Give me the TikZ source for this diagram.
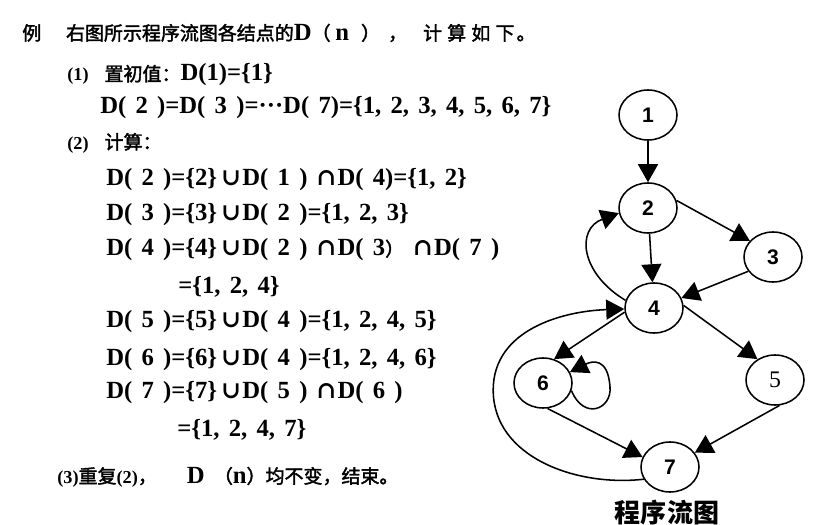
\documentclass[tikz,border=0pt]{standalone}
\usepackage{fontspec}
\setmainfont{Liberation Serif}[Scale=1.3,WordSpace=1.5]
\newfontfamily\cjkfont{Noto Sans CJK SC}[FakeBold=2]
\newfontfamily\cjkhead{Noto Sans CJK SC}
\newfontfamily\knotfont{Liberation Sans}
\newfontfamily\opfont{DejaVu Serif}
\usetikzlibrary{shapes.geometric,arrows.meta}

\newcommand{\cjk}{\cjkfont\mdseries}
\newcommand{\setu}{\hspace{0.1cm}{\opfont\fontsize{17}{17}\selectfont ∪}\hspace{0.03cm}}
\newcommand{\setn}{\hspace{0.22cm}{\opfont\fontsize{17}{17}\selectfont ∩}\hspace{0.03cm}}
\newcommand{\nr}[1]{{\fontsize{10}{12}\selectfont(#1)}}

\tikzset{
	knot/.style={ellipse,draw,line width=1.1pt,minimum width=1.45cm,minimum height=1.25cm,inner sep=0pt,
		font=\knotfont\fontsize{15}{17}\selectfont\bfseries},
	arr/.style={line width=1.1pt,-{Triangle[length=4.5mm,width=5mm]}},
	txt/.style={anchor=west,inner sep=0pt,font=\fontsize{13.5}{16}\selectfont\bfseries}
}

\begin{document}
\begin{tikzpicture}
	\useasboundingbox (0,0) rectangle (20.625,13.125);
	%text on the left
	\node[txt] (l1)  at (0.55,12.3)   {{\cjk 例\hspace{0.62cm}右图所示程序流图各结点的}D{\cjk （}\hspace{0.12cm}n\hspace{0.3cm}{\cjk ）}\hspace{0.2cm}{\cjk ，}\hspace{0.4cm}%
		{\cjk 计\hspace{0.13cm}算\hspace{0.13cm}如\hspace{0.13cm}下\hspace{0.05cm}。}};
	\node[txt] (l2)  at (1.675,11.25) {\nr{1}\hspace{0.4cm}{\cjk 置初值：}D(1)=\{1\}};
	\node[txt] (l3)  at (2.5,10.425)  {D( 2 )=D( 3 )=···D( 7)=\{1, 2, 3, 4, 5, 6, 7\}};
	\node[txt] (l4)  at (1.675,9.55)  {\nr{2}\hspace{0.4cm}{\cjk 计算：}};
	\node[txt] (l5)  at (2.65,8.625)  {D( 2 )=\{2\}\setu D( 1 )\setn D( 4)=\{1, 2\}};
	\node[txt] (l6)  at (2.65,7.75)   {D( 3 )=\{3\}\setu D( 2 )=\{1, 2, 3\}};
	\node[txt] (l7)  at (2.65,6.875)  {D( 4 )=\{4\}\setu D( 2 )\setn D( 3{\cjk ）}\setn D( 7 )};
	\node[txt] (l8)  at (4.45,5.95)   {=\{1, 2, 4\}};
	\node[txt] (l9)  at (2.65,5.075)  {D( 5 )=\{5\}\setu D( 4 )=\{1, 2, 4, 5\}};
	\node[txt] (l10) at (2.65,4.125)  {D( 6 )=\{6\}\setu D( 4 )=\{1, 2, 4, 6\}};
	\node[txt] (l11) at (2.65,3.3)    {D( 7 )=\{7\}\setu D( 5 )\setn D( 6 )};
	\node[txt] (l12) at (4.425,2.375) {=\{1, 2, 4, 7\}};
	\node[txt] (l13) at (1.425,1.2)   {\nr{3}{\cjk 重复}\nr{2}{\cjk ，}\hspace{0.75cm}D {\cjk （}n{\cjk ）均不变，结束。}};

	%flow graph
	\node[knot] (n1) at (16.2,10.25)   {1};
	\node[knot] (n2) at (16.2,7.925)   {2};
	\node[knot] (n3) at (19.325,6.7)   {3};
	\node[knot] (n4) at (16.35,5.425)  {4};
	\node[knot,font=\fontsize{13}{15}\selectfont] (n5) at (19.375,3.625) {5};
	\node[knot] (n6) at (13.575,3.55)  {6};
	\node[knot] (n7) at (16.75,1.45)   {7};
	\node[font=\cjkhead\fontsize{18.5}{20}\selectfont\bfseries] (cap) at (16.675,0.3) {程序流图};

	\draw[arr] (n1) -- (n2);
	\draw[arr] (n2.15) -- (n3.145);
	\draw[arr] (n2) -- (n4);
	\draw[arr] (n3.210) -- (n4.20);
	\draw[arr] (n4.165) .. controls (14.5,6.3) and (14.4,7.4) .. (n2.190);	%back to 2
	\draw[arr] (n4.5) -- (n5.130);
	\draw[arr] (n4.188) -- (n6.65);
	\draw[arr] (n6.-15) .. controls (14.6,2.6) and (15.3,2.9) .. (15.25,3.45)
		.. controls (15.2,4.2) and (14.8,4.1) .. (n6.22);						%loop on 6
	\draw[arr] (n6.-80) -- (n7.160);
	\draw[arr] (n5.-80) -- (n7.30);
	\draw[arr] (n7.205) .. controls (14.4,0.95) and (12.33,1.7) .. (12.33,3.375)
		.. controls (12.33,4.9) and (14.1,5.35) .. (n4.182);					%back to 4
\end{tikzpicture}
\end{document}
